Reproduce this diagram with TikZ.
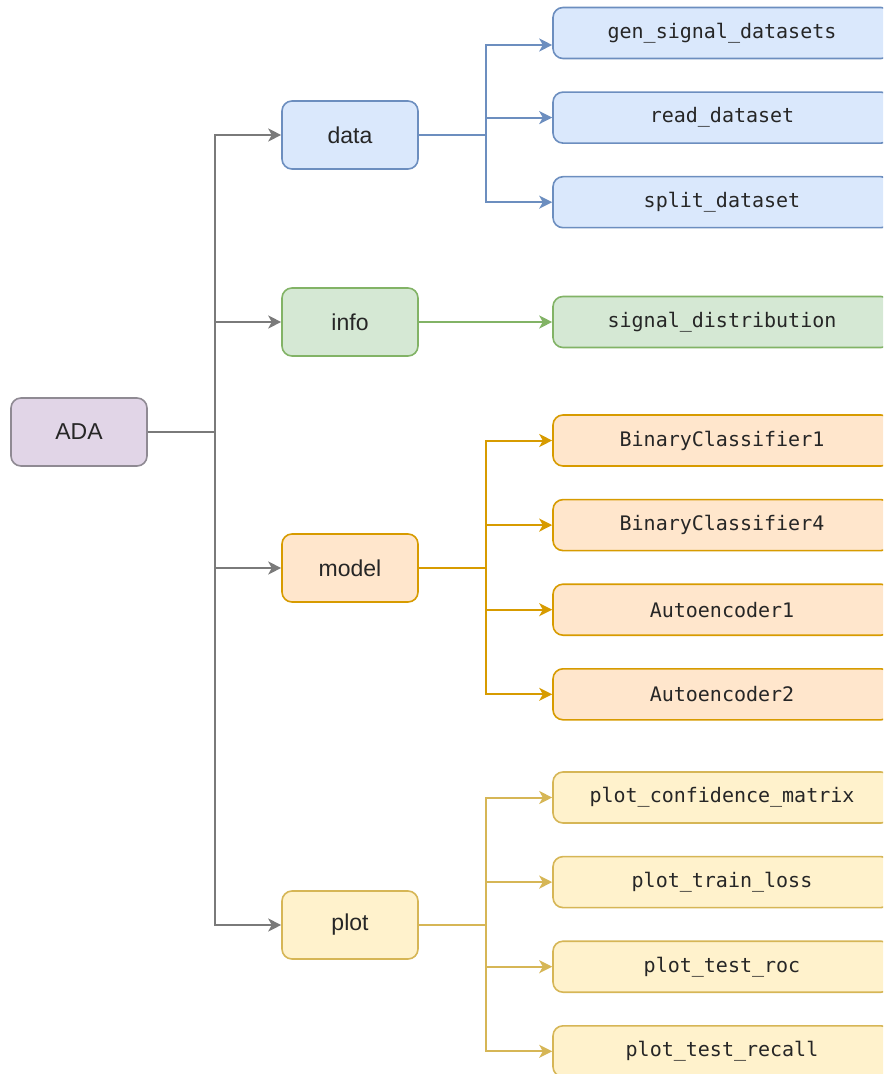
\documentclass[tikz,border=0pt]{standalone}
\usepackage{fontspec}
\setmainfont{Liberation Sans}
\setmonofont{DejaVu Sans Mono}
\usepackage{xcolor}
\usetikzlibrary{arrows.meta, positioning}

\definecolor{adafill}{HTML}{E1D5E7}
\definecolor{adaline}{HTML}{8F8A93}
\definecolor{datafill}{HTML}{DAE8FC}
\definecolor{dataline}{HTML}{6C8EBF}
\definecolor{infofill}{HTML}{D5E8D4}
\definecolor{infoline}{HTML}{82B366}
\definecolor{modelfill}{HTML}{FFE6CC}
\definecolor{modelline}{HTML}{D79B00}
\definecolor{plotfill}{HTML}{FFF2CC}
\definecolor{plotline}{HTML}{D6B656}
\definecolor{trunkline}{HTML}{7A7A7A}

\begin{document}
\begin{tikzpicture}[
        x=0.5pt, y=-0.5pt,
        node distance=16pt,
        grp/.style={rectangle, draw, line width=0.8pt, rounded corners=5pt, minimum height=34pt, minimum width=68pt, align=center, font=\fontsize{11.5}{13}\selectfont, text=black!85},
        leaf/.style={rectangle, draw, line width=0.8pt, rounded corners=5pt, minimum height=25.5pt, minimum width=169pt, align=center, font=\ttfamily\fontsize{10}{12}\selectfont, text=black!85},
        arrow/.style={-{Stealth[length=6.5pt, width=6.5pt, inset=1.8pt]}, line width=1pt}
    ]
        \useasboundingbox (0,0) rectangle (883,1074);
        \clip (0,0) rectangle (883,1074);

        % Nodes
        \node[grp, fill=adafill, draw=adaline] (ada) at (79,432) {ADA};
        \node[grp, fill=datafill, draw=dataline] (data) at (350,135) {data};
        \node[grp, fill=infofill, draw=infoline] (info) at (350,322) {info};
        \node[grp, fill=modelfill, draw=modelline] (model) at (350,568) {model};
        \node[grp, fill=plotfill, draw=plotline] (plot) at (350,925) {plot};

        \node[leaf, fill=datafill, draw=dataline] (gen) at (722,33) {gen\_signal\_datasets};
        \node[leaf, fill=datafill, draw=dataline, below=of gen] (read) {read\_dataset};
        \node[leaf, fill=datafill, draw=dataline, below=of read] (split) {split\_dataset};

        \node[leaf, fill=infofill, draw=infoline] (dist) at (722,322) {signal\_distribution};

        \node[leaf, fill=modelfill, draw=modelline] (bc1) at (722,440.5) {BinaryClassifier1};
        \node[leaf, fill=modelfill, draw=modelline, below=of bc1] (bc4) {BinaryClassifier4};
        \node[leaf, fill=modelfill, draw=modelline, below=of bc4] (ae1) {Autoencoder1};
        \node[leaf, fill=modelfill, draw=modelline, below=of ae1] (ae2) {Autoencoder2};

        \node[leaf, fill=plotfill, draw=plotline] (conf) at (722,797.5) {plot\_confidence\_matrix};
        \node[leaf, fill=plotfill, draw=plotline, below=of conf] (loss) {plot\_train\_loss};
        \node[leaf, fill=plotfill, draw=plotline, below=of loss] (roc) {plot\_test\_roc};
        \node[leaf, fill=plotfill, draw=plotline, below=of roc] (recall) {plot\_test\_recall};

        \coordinate (trunk) at (215,432);
        \coordinate (dsplit) at (486,135);
        \coordinate (msplit) at (486,568);
        \coordinate (psplit) at (486,925);

        % Arrows
        \draw[arrow, trunkline] (ada.east) -- (trunk) |- (data.west);
        \draw[arrow, trunkline] (ada.east) -- (trunk) |- (info.west);
        \draw[arrow, trunkline] (ada.east) -- (trunk) |- (model.west);
        \draw[arrow, trunkline] (ada.east) -- (trunk) |- (plot.west);

        \draw[arrow, dataline] (data.east) -- (dsplit) |- ([yshift=-6pt]gen.west);
        \draw[arrow, dataline] (data.east) -- (dsplit) |- (read.west);
        \draw[arrow, dataline] (data.east) -- (dsplit) |- (split.west);

        \draw[arrow, infoline] (info.east) -- (dist.west);

        \draw[arrow, modelline] (model.east) -- (msplit) |- (bc1.west);
        \draw[arrow, modelline] (model.east) -- (msplit) |- (bc4.west);
        \draw[arrow, modelline] (model.east) -- (msplit) |- (ae1.west);
        \draw[arrow, modelline] (model.east) -- (msplit) |- (ae2.west);

        \draw[arrow, plotline] (plot.east) -- (psplit) |- (conf.west);
        \draw[arrow, plotline] (plot.east) -- (psplit) |- (loss.west);
        \draw[arrow, plotline] (plot.east) -- (psplit) |- (roc.west);
        \draw[arrow, plotline] (plot.east) -- (psplit) |- (recall.west);
    \end{tikzpicture}
\end{document}
